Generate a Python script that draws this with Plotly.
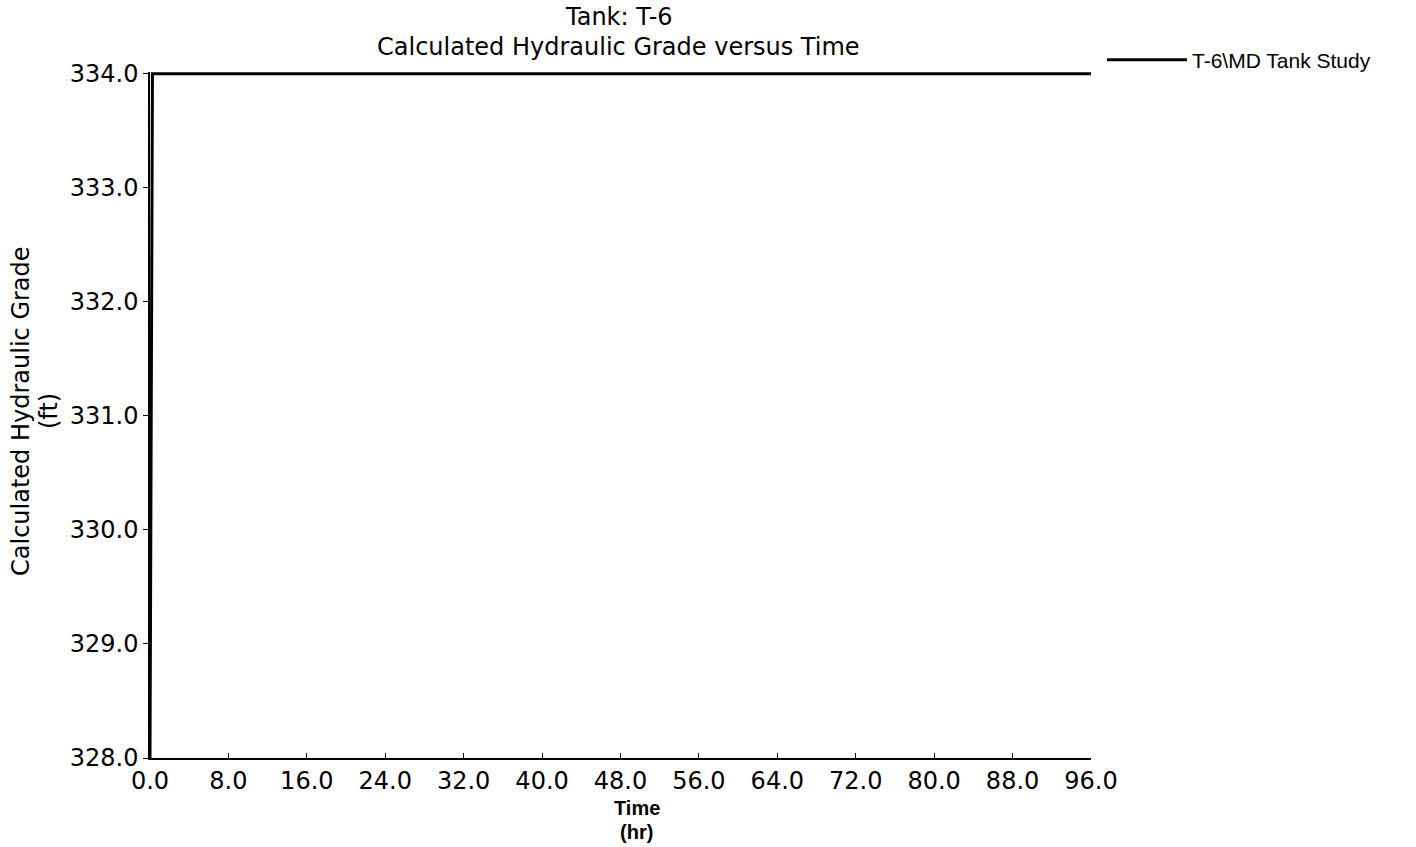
import plotly.graph_objects as go

# Data
time_hr = [0.0, 0.25, 96.0]
hydraulic_grade_ft = [328.0, 334.0, 334.0]
series_name = "T-6\\MD Tank Study"
x_ticks = [0, 8, 16, 24, 32, 40, 48, 56, 64, 72, 80, 88, 96]
y_ticks = [328, 329, 330, 331, 332, 333, 334]
title_line1 = "Tank: T-6"
title_line2 = "Calculated Hydraulic Grade versus Time"
y_title_line1 = "Calculated Hydraulic Grade"
y_title_line2 = "(ft)"
x_title_line1 = "Time"
x_title_line2 = "(hr)"

fig = go.Figure()
fig.add_trace(go.Scatter(
    x=time_hr, y=hydraulic_grade_ft, mode="lines", name=series_name,
    line=dict(color="black", width=3),
))

F = "DejaVu Sans, Arial, sans-serif"
A = "Liberation Sans, Arial, sans-serif"
L, R, T, B = 150, 325, 72, 89
W, H = 1416, 847
ph = H - T - B
pw = W - L - R

def py(ypix):
    return (H - B - ypix) / ph

def px(xpix):
    return (xpix - L) / pw

def note(text, x, y, size, family, angle=0, bold=False):
    return dict(text=text, xref="paper", yref="paper", x=px(x), y=py(y),
                xanchor="center", yanchor="middle", showarrow=False, textangle=angle,
                font=dict(size=size, family=family, color="black",
                          weight="bold" if bold else "normal"))

fig.update_layout(
    width=W, height=H,
    paper_bgcolor="white", plot_bgcolor="white",
    margin=dict(l=L, r=R, t=T, b=B),
    font=dict(family=F, color="black"),
    showlegend=True,
    legend=dict(
        x=px(1102), y=py(60), xanchor="left", yanchor="middle",
        bgcolor="rgba(0,0,0,0)", itemwidth=80,
        font=dict(size=21, family=A, color="black"),
    ),
    xaxis=dict(
        range=[0, 96], tickvals=x_ticks, tickformat=".1f",
        showgrid=False, zeroline=False,
        showline=True, linecolor="black", linewidth=2,
        ticks="inside", ticklen=5, tickcolor="black", tickwidth=1,
        tickfont=dict(size=24, family=F),
    ),
    yaxis=dict(
        range=[328, 334.015], tickvals=y_ticks, tickformat=".1f",
        showgrid=False, zeroline=False,
        showline=True, linecolor="black", linewidth=1.5,
        ticks="outside", ticklen=5, tickcolor="black", tickwidth=1,
        tickfont=dict(size=24, family=F),
    ),
    annotations=[
        note(title_line1, 619, 17, 24, F),
        note(title_line2, 618, 47, 24, F),
        note(y_title_line1, 21, 411, 24, F, angle=-90),
        note(y_title_line2, 49, 411, 24, F, angle=-90),
        note(x_title_line1, 637, 808, 20, A, bold=True),
        note(x_title_line2, 636, 832, 20, A, bold=True),
    ],
)

fig.write_html("out.html", config={"displayModeBar": False},
               post_script="document.body.style.margin='0';document.body.style.overflow='hidden';")
